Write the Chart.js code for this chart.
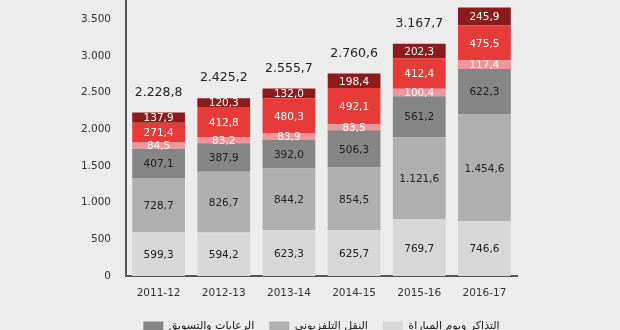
<!DOCTYPE html>
<html>
<head>
<meta charset="utf-8">
<script src="https://cdn.jsdelivr.net/npm/chart.js@4/dist/chart.umd.min.js"></script>
<style>
  html, body { margin: 0; padding: 0; background: #ececec; overflow: hidden; }
  #wrap { width: 620px; height: 342px; }
</style>
</head>
<body>
<div id="wrap"><canvas id="revenueChart" width="620" height="342"></canvas></div>
<script>
// seasons and revenue streams (millions)
const seasons    = ['2011-12', '2012-13', '2013-14', '2014-15', '2015-16', '2016-17'];
const tickets    = [599.3, 594.2, 623.3, 625.7, 769.7, 746.6];
const broadcast  = [728.7, 826.7, 844.2, 854.5, 1121.6, 1454.6];
const commercial = [407.1, 387.9, 392.0, 506.3, 561.2, 622.3];
const pinkPart   = [84.5, 83.2, 83.9, 83.5, 100.4, 117.4];
const redPart    = [271.4, 412.8, 480.3, 492.1, 412.4, 475.5];
const darkPart   = [137.9, 120.3, 132.0, 198.4, 202.3, 245.9];
const totals     = [2228.8, 2425.2, 2555.7, 2760.6, 3167.7, 3662.3];
const yTicks     = [0, 500, 1000, 1500, 2000, 2500, 3000, 3500];

const FONT = '"DejaVu Sans", sans-serif';

function fmt(v, dec) {
  const parts = v.toFixed(dec).split('.');
  const whole = parts[0].replace(/\B(?=(\d{3})+(?!\d))/g, '.');
  return parts.length > 1 ? whole + ',' + parts[1] : whole;
}

// numbers inside segments + totals above bars
const segLabels = {
  id: 'segLabels',
  afterDatasetsDraw(chart) {
    const ctx = chart.ctx;
    ctx.save();
    ctx.textAlign = 'center';
    ctx.textBaseline = 'middle';
    ctx.font = '10.5px ' + FONT;
    chart.data.datasets.forEach((ds, i) => {
      const meta = chart.getDatasetMeta(i);
      meta.data.forEach((bar, j) => {
        const p = bar.getProps(['x', 'y', 'base'], true);
        ctx.fillStyle = ds.textColor;
        ctx.fillText(fmt(ds.data[j], 1), p.x, (p.y + p.base) / 2 + 1);
      });
    });
    const topMeta = chart.getDatasetMeta(chart.data.datasets.length - 1);
    ctx.font = '12.5px ' + FONT;
    ctx.fillStyle = '#222';
    topMeta.data.forEach((bar, j) => {
      ctx.fillText(fmt(totals[j], 1), bar.x, bar.y - 20);
    });
    ctx.restore();
  }
};

const ctx = document.getElementById('revenueChart').getContext('2d');
new Chart(ctx, {
  type: 'bar',
  data: {
    labels: seasons,
    datasets: [
      { label: 'التذاكر ويوم المباراة', data: tickets,    backgroundColor: '#d7d7d7', textColor: '#222' },
      { label: 'النقل التلفزيوني',      data: broadcast,  backgroundColor: '#afafaf', textColor: '#222' },
      { label: 'الرعايات والتسويق',     data: commercial, backgroundColor: '#858585', textColor: '#222' },
      { label: 'أخرى',                  data: pinkPart,   backgroundColor: '#f0959a', textColor: '#fff' },
      { label: 'المتاجر',               data: redPart,    backgroundColor: '#e63b38', textColor: '#fff' },
      { label: 'الجوائز',               data: darkPart,   backgroundColor: '#8c1b1b', textColor: '#fff' }
    ]
  },
  options: {
    responsive: false,
    animation: false,
    layout: { padding: { left: 0, right: 103, top: 1, bottom: 0 } },
    datasets: { bar: { categoryPercentage: 1, barPercentage: 0.81, borderWidth: 0 } },
    plugins: {
      tooltip: { enabled: false },
      legend: {
        position: 'bottom',
        fullSize: false,
        reverse: true,
        labels: {
          filter: item => item.datasetIndex < 3,
          boxWidth: 20,
          boxHeight: 10,
          padding: 15,
          color: '#222',
          font: { family: FONT, size: 11 }
        }
      }
    },
    scales: {
      x: {
        stacked: true,
        grid: { display: false },
        border: { color: '#555', width: 2 },
        ticks: { color: '#333', font: { family: FONT, size: 10.5 }, padding: 3 },
        afterFit: s => { s.height = 30; s.paddingLeft = 0; s.paddingRight = 0; }
      },
      y: {
        stacked: true,
        min: 0,
        max: 3750,
        grid: { display: false },
        border: { color: '#555', width: 2 },
        ticks: {
          stepSize: 500,
          padding: 7,
          color: '#333',
          font: { family: FONT, size: 10.5 },
          callback: v => fmt(v, 0)
        },
        afterBuildTicks: s => { s.ticks = yTicks.map(v => ({ value: v })); },
        afterFit: s => { s.width = 126; s.paddingTop = 0; s.paddingBottom = 0; }
      }
    }
  },
  plugins: [segLabels]
});
</script>
</body>
</html>
